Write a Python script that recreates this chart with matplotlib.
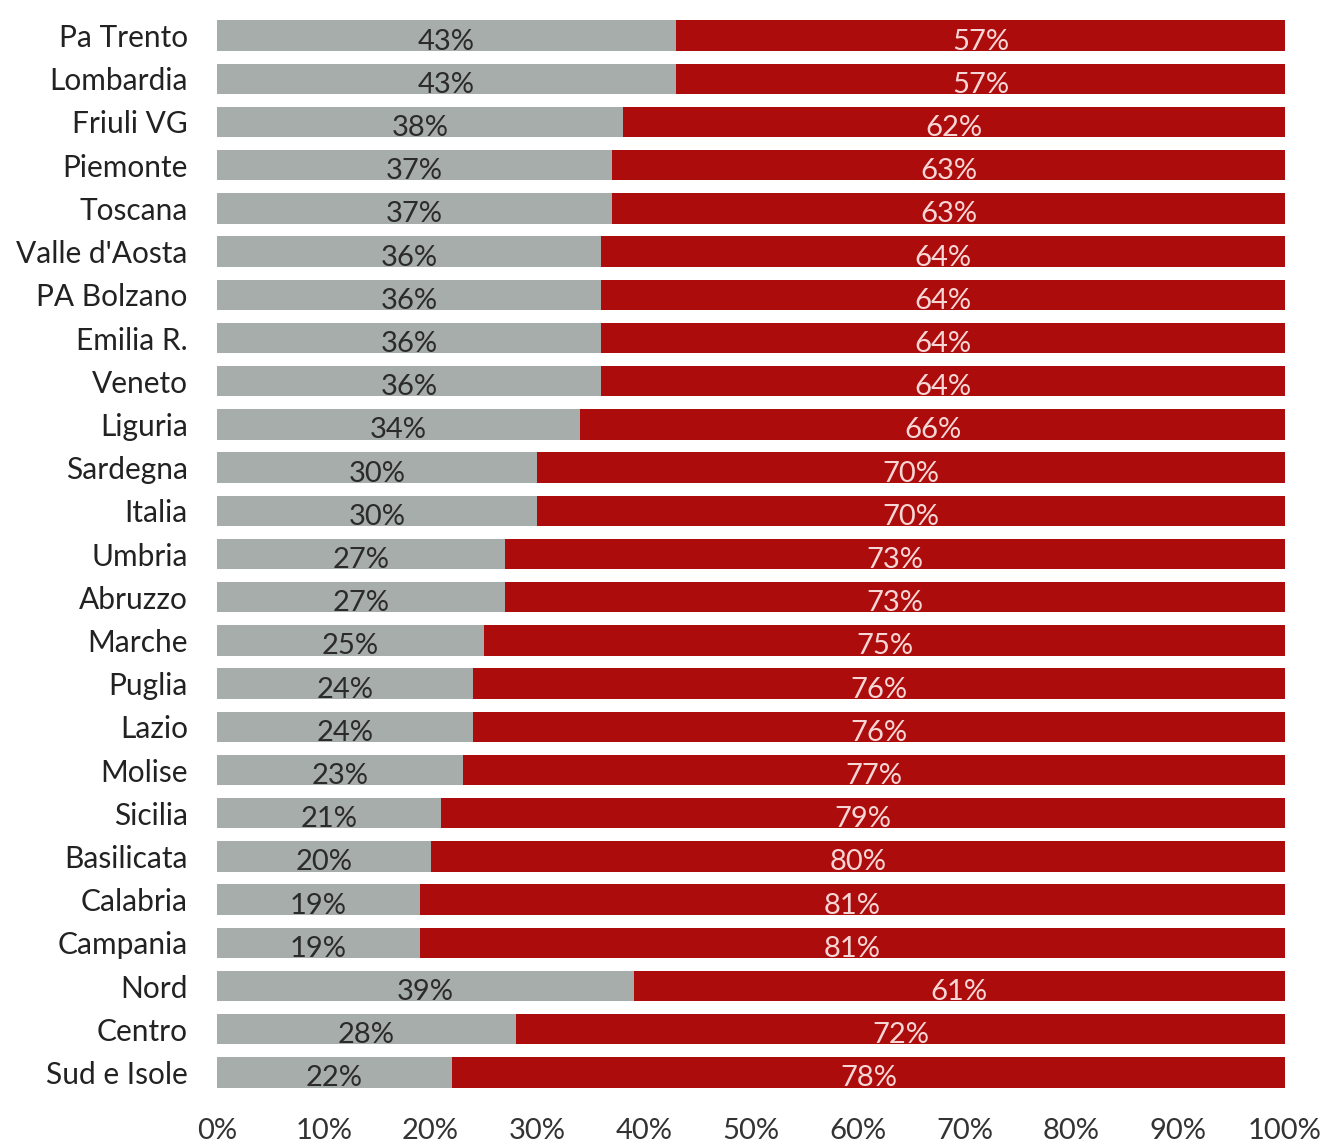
import matplotlib
matplotlib.use('Agg')
import matplotlib.pyplot as plt
import numpy as np

regions = ['Pa Trento', 'Lombardia', 'Friuli VG', 'Piemonte', 'Toscana',
           "Valle d'Aosta", 'PA Bolzano', 'Emilia R.', 'Veneto', 'Liguria',
           'Sardegna', 'Italia', 'Umbria', 'Abruzzo', 'Marche', 'Puglia',
           'Lazio', 'Molise', 'Sicilia', 'Basilicata', 'Calabria', 'Campania',
           'Nord', 'Centro', 'Sud e Isole']
grey_share = [43, 43, 38, 37, 37, 36, 36, 36, 36, 34, 30, 30, 27, 27, 25, 24,
              24, 23, 21, 20, 19, 19, 39, 28, 22]
red_share = [57, 57, 62, 63, 63, 64, 64, 64, 64, 66, 70, 70, 73, 73, 75, 76,
             76, 77, 79, 80, 81, 81, 61, 72, 78]
x_ticks = [0, 10, 20, 30, 40, 50, 60, 70, 80, 90, 100]

plt.rcParams['font.family'] = ['Lato', 'DejaVu Sans']

GREY = '#a7adaa'
RED = '#ad0c0c'

fig = plt.figure(figsize=(13.27, 11.45), dpi=100)
ax = fig.add_axes([217 / 1327, 1 - 1094 / 1145, 1068 / 1327, 1080 / 1145])

y = np.arange(len(regions))
grey = np.array(grey_share)
red = np.array(red_share)

ax.barh(y, grey, height=0.7, color=GREY)
ax.barh(y, red, left=grey, height=0.7, color=RED)

# value labels sit a touch below the bar middle
for yi, g, r in zip(y, grey, red):
    ax.text(g / 2, yi + 0.14, f'{g}%', ha='center', va='center',
            fontsize=21, color='#2b2b2b')
    ax.text(g + r / 2, yi + 0.14, f'{r}%', ha='center', va='center',
            fontsize=21, color='#f7d6d6')

ax.set_xlim(0, 100)
ax.set_ylim(len(regions) - 0.5, -0.5)
ax.set_yticks(y)
ax.set_yticklabels(regions, fontsize=21.5, color='#222222')
ax.set_xticks(x_ticks)
ax.set_xticklabels([f'{t}%' for t in x_ticks], fontsize=21, color='#333333')
ax.tick_params(length=0)
ax.tick_params(axis='y', pad=21)
ax.tick_params(axis='x', pad=17)
for side in ax.spines.values():
    side.set_visible(False)

fig.savefig('out.png', dpi=100)
